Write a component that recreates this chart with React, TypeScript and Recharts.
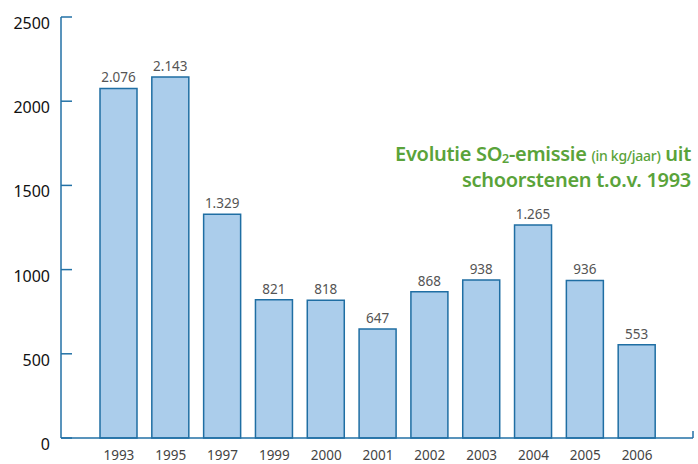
import React from "react";
import { BarChart, Bar, XAxis, YAxis, LabelList } from "recharts";

const years = ["1993", "1995", "1997", "1999", "2000", "2001", "2002", "2003", "2004", "2005", "2006"];
const emissions = [2076, 2143, 1329, 821, 818, 647, 868, 938, 1265, 936, 553];
const yTicks = [0, 500, 1000, 1500, 2000, 2500];

const data = years.map((y, i) => ({ year: y, value: emissions[i] }));

const AXIS = "#2271a6";
const FONT = "'Noto Sans', sans-serif";

const fmt = (v: number) => String(v).replace(/\B(?=(\d{3})+(?!\d))/g, ".");

const YTick = (props: any) => {
  const { x, y, payload } = props;
  return (
    <g>
      <line x1={x} y1={y} x2={x + 11} y2={y} stroke={AXIS} strokeWidth={1.5} />
      <text x={x - 11} y={y + 12} textAnchor="end" fontSize={16} fill="#111" fontFamily={FONT}>
        {payload.value}
      </text>
    </g>
  );
};

const RightEndTick = (props: any) => {
  const { x, y } = props;
  return <line x1={x} y1={y} x2={x} y2={y - 7} stroke={AXIS} strokeWidth={1.5} />;
};

const XTick = (props: any) => {
  const { x, y, payload } = props;
  return (
    <text x={x} y={y + 22} textAnchor="middle" fontSize={13.5} fill="#444" fontFamily={FONT}>
      {payload.value}
    </text>
  );
};

export default function App() {
  return (
    <div style={{ position: "absolute", left: 0, top: 0, width: 698, height: 464, background: "#fff" }}>
      <BarChart width={698} height={464} data={data} margin={{ top: 17, right: 4, bottom: 0, left: 0 }}>
        <XAxis
          dataKey="year"
          height={26}
          padding={{ left: 32, right: 30 }}
          axisLine={{ stroke: AXIS, strokeWidth: 1.5 }}
          tickLine={false}
          tickSize={0}
          tickMargin={0}
          tick={<XTick />}
          interval={0}
        />
        <YAxis
          width={61}
          domain={[0, 2500]}
          ticks={yTicks}
          axisLine={{ stroke: AXIS, strokeWidth: 1.5 }}
          tickLine={false}
          tickSize={0}
          tickMargin={0}
          tick={<YTick />}
          interval={0}
        />
        <YAxis
          yAxisId="r"
          orientation="right"
          width={1}
          domain={[0, 2500]}
          allowDataOverflow
          ticks={[0]}
          interval={0}
          axisLine={false}
          tickLine={false}
          tickSize={0}
          tickMargin={0}
          tick={<RightEndTick />}
        />
        <Bar dataKey="value" barSize={37} fill="#abcdeb" stroke="#1f6ea3" strokeWidth={1.5} isAnimationActive={false}>
          <LabelList
            dataKey="value"
            position="top"
            offset={6}
            formatter={(v: any) => fmt(Number(v))}
            style={{ fontSize: 13.5, fill: "#555", fontFamily: FONT }}
          />
        </Bar>
      </BarChart>
      <div
        style={{
          position: "absolute",
          right: 7,
          top: 142,
          textAlign: "right",
          color: "#5aa33a",
          fontFamily: FONT,
          fontWeight: 600,
          fontSize: 20,
          lineHeight: "24px",
          letterSpacing: -0.3,
          whiteSpace: "nowrap",
        }}
      >
        <div>
          Evolutie SO<span style={{ fontSize: 12.5, position: "relative", top: 2, lineHeight: 1 }}>2</span>-emissie{" "}
          <span style={{ fontSize: 14, fontWeight: 500 }}>(in kg/jaar)</span> uit
        </div>
        <div>schoorstenen t.o.v. 1993</div>
      </div>
    </div>
  );
}
